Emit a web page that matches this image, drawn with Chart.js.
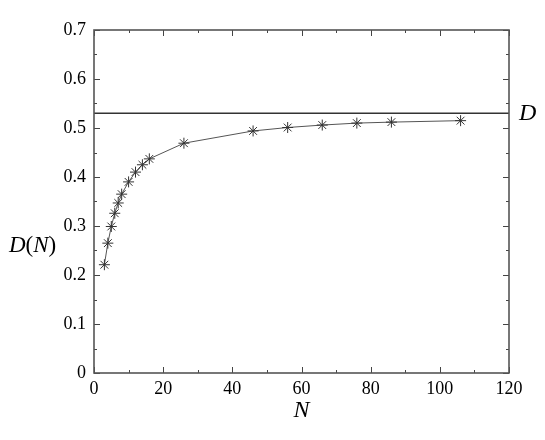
<!DOCTYPE html>
<html>
<head>
<meta charset="utf-8">
<script src="https://cdn.jsdelivr.net/npm/chart.js@4/dist/chart.umd.min.js"></script>
<style>
  body { margin: 0; background: #fff; }
  canvas { display: block; }
</style>
</head>
<body>
<canvas id="chart" width="545" height="440"></canvas>
<script>
// data
const nValues = [3, 4, 5, 6, 7, 8, 10, 12, 14, 16, 26, 46, 56, 66, 76, 86, 106];
const dValues = [0.221, 0.265, 0.299, 0.326, 0.347, 0.365, 0.390, 0.410, 0.425, 0.437,
                 0.469, 0.494, 0.501, 0.506, 0.510, 0.512, 0.515];
const dLimit = 0.530;
const xRange = [0, 120];
const yRange = [0, 0.7];

const serif = "'Liberation Serif', 'DejaVu Serif', serif";

const points = nValues.map((n, i) => ({ x: n, y: dValues[i] }));
const limitLine = xRange.map(x => ({ x: x, y: dLimit }));

// inward ticks on all four sides + frame
const frameTicks = {
    id: "frameTicks",
    afterDraw(chart) {
        const ctx = chart.ctx;
        const xs = chart.scales.x;
        const ys = chart.scales.y;
        const area = chart.chartArea;
        ctx.save();
        ctx.strokeStyle = "#444";
        ctx.lineWidth = 1;
        ctx.beginPath();
        for (let v = xRange[0]; v <= xRange[1]; v += 10) {
            const px = Math.round(xs.getPixelForValue(v)) + 0.5;
            const len = v % 20 === 0 ? 6 : 3;
            ctx.moveTo(px, area.bottom);
            ctx.lineTo(px, area.bottom - len);
            ctx.moveTo(px, area.top);
            ctx.lineTo(px, area.top + len);
        }
        for (let i = 0; i <= 14; i++) {
            const py = Math.round(ys.getPixelForValue(i * 0.05)) + 0.5;
            const len = i % 2 === 0 ? 6 : 3;
            ctx.moveTo(area.left, py);
            ctx.lineTo(area.left + len, py);
            ctx.moveTo(area.right, py);
            ctx.lineTo(area.right - len, py);
        }
        ctx.stroke();

        ctx.lineWidth = 1.6;
        ctx.strokeStyle = "#555";
        ctx.strokeRect(area.left, area.top, area.right - area.left, area.bottom - area.top);

        // y title "D(N)" written horizontally
        ctx.fillStyle = "#000";
        ctx.textBaseline = "middle";
        ctx.textAlign = "left";
        const parts = [["D", "italic"], ["(", "normal"], ["N", "italic"], [")", "normal"]];
        let x = 9;
        const y = 246;
        parts.forEach(p => {
            ctx.font = p[1] + " 23px " + serif;
            ctx.fillText(p[0], x, y);
            x += ctx.measureText(p[0]).width;
        });

        // label of the limit line
        ctx.font = "italic 24px " + serif;
        ctx.fillText("D", area.right + 10, ys.getPixelForValue(dLimit));
        ctx.restore();
    }
};

new Chart(document.getElementById("chart"), {
    type: "scatter",
    data: {
        datasets: [
            {
                label: "D",
                data: limitLine,
                showLine: true,
                borderColor: "#333",
                borderWidth: 1.5,
                pointRadius: 0,
                fill: false
            },
            {
                label: "D(N)",
                data: points,
                showLine: true,
                borderColor: "#555",
                borderWidth: 1,
                pointStyle: "star",
                pointRadius: 5.5,
                pointBorderColor: "#333",
                pointBorderWidth: 1,
                pointBackgroundColor: "#333",
                fill: false
            }
        ]
    },
    options: {
        responsive: false,
        animation: false,
        layout: { padding: { top: 30, right: 36, left: 0, bottom: 0 } },
        plugins: {
            legend: { display: false },
            tooltip: { enabled: false }
        },
        scales: {
            x: {
                type: "linear",
                min: xRange[0],
                max: xRange[1],
                grid: { display: false, drawTicks: false },
                border: { display: false },
                ticks: {
                    stepSize: 20,
                    padding: 5,
                    color: "#000",
                    font: { family: serif, size: 18 }
                },
                title: {
                    display: true,
                    text: "N",
                    color: "#000",
                    font: { family: serif, size: 24, style: "italic" },
                    padding: { top: 0, bottom: 15 }
                },
                afterFit(scale) { scale.height = 67; }
            },
            y: {
                type: "linear",
                min: yRange[0],
                max: yRange[1],
                grid: { display: false, drawTicks: false },
                border: { display: false },
                ticks: {
                    stepSize: 0.1,
                    padding: 8,
                    color: "#000",
                    font: { family: serif, size: 18 },
                    callback: v => (v === 0 ? "0" : v.toFixed(1))
                },
                afterFit(scale) { scale.width = 94; }
            }
        }
    },
    plugins: [frameTicks]
});
</script>
</body>
</html>
